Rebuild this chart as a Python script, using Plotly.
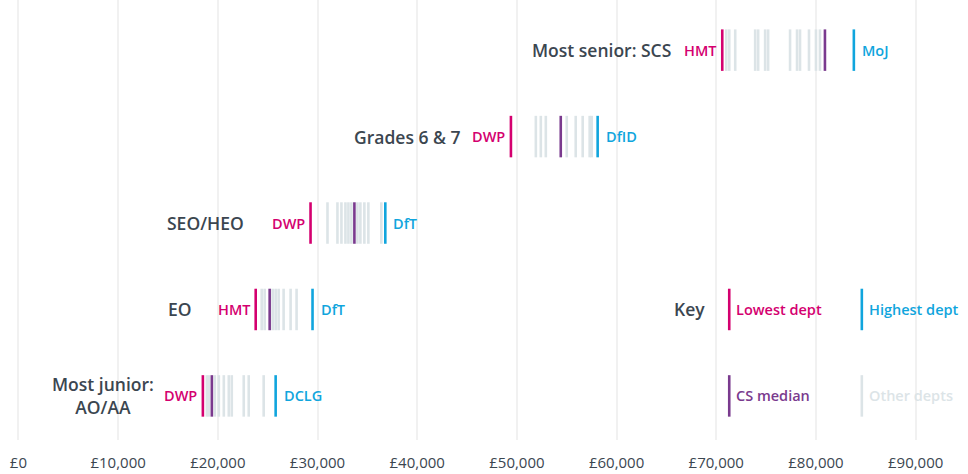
import plotly.graph_objects as go

# ---------------- data ----------------
categories = ["Most junior:<br>AO/AA", "EO", "SEO/HEO", "Grades 6 & 7", "Most senior: SCS"]
lowest_dept = ["DWP", "HMT", "DWP", "DWP", "HMT"]
lowest_val = [18500, 23800, 29300, 49400, 70600]
highest_dept = ["DCLG", "DfT", "DfT", "DfID", "MoJ"]
highest_val = [25800, 29500, 36800, 58100, 83800]
median_val = [19400, 25200, 33700, 54400, 80900]
other_vals = [
    [18900, 19100, 19700, 20100, 20600, 21100, 21400, 22600, 23100, 24600],
    [24400, 24700, 25500, 25800, 26100, 26600, 27300, 27900],
    [31000, 32000, 32400, 32800, 33100, 33400, 34000, 34300, 34700, 35100, 36400],
    [51900, 52400, 52900, 55000, 55900, 56600, 57300, 57500],
    [71000, 71300, 71900, 73900, 74200, 74900, 75200, 77400, 78100, 78400, 79300, 80000, 80400],
]
tick_vals = [0, 10000, 20000, 30000, 40000, 50000, 60000, 70000, 80000, 90000]
tick_text = ["£0", "£10,000", "£20,000", "£30,000", "£40,000", "£50,000",
             "£60,000", "£70,000", "£80,000", "£90,000"]
key_items = ["Lowest dept", "Highest dept", "CS median", "Other depts"]
key_x = [71300, 84600, 71300, 84600]
key_row = [1, 1, 0, 0]

# ---------------- style ----------------
PINK = "#d4006f"
BLUE = "#10a5dd"
PURPLE = "#7a3a8e"
GREY = "#dce4e7"
TEXT = "#3b4650"
FONT = "Open Sans"
HALF = 0.24
LW = 2.6
DEPT_SIZE = 14.5
CAT_SIZE = 17.5
W = 600

def segs(vals_rows):
    xs, ys = [], []
    for i, vals in enumerate(vals_rows):
        for v in vals:
            xs += [v, v, None]
            ys += [i - HALF, i + HALF, None]
    return xs, ys

fig = go.Figure()

def add(vals_rows, color):
    xs, ys = segs(vals_rows)
    fig.add_trace(go.Scatter(x=xs, y=ys, mode="lines",
                             line=dict(color=color, width=LW),
                             hoverinfo="skip", showlegend=False))

add(other_vals, GREY)
add([[v] for v in median_val], PURPLE)
add([[v] for v in lowest_val], PINK)
add([[v] for v in highest_val], BLUE)

# key marks
key_colors = [PINK, BLUE, PURPLE, GREY]
for name, x, r, c in zip(key_items, key_x, key_row, key_colors):
    fig.add_trace(go.Scatter(x=[x, x], y=[r - HALF, r + HALF], mode="lines",
                             line=dict(color=c, width=LW), hoverinfo="skip",
                             showlegend=False))
    fig.add_annotation(x=x, y=r, text=name, xanchor="left", xshift=5,
                       showarrow=False,
                       font=dict(family=FONT, size=DEPT_SIZE, color=c, weight=W))
fig.add_annotation(x=key_x[0], y=key_row[0], text="Key", xanchor="right", xshift=-22,
                   showarrow=False,
                   font=dict(family=FONT, size=CAT_SIZE, color=TEXT, weight=W))

cat_shift = [-47, -62, -65, -48, -49]
for i in range(len(categories)):
    fig.add_annotation(x=lowest_val[i], y=i, text=lowest_dept[i], xanchor="right",
                       xshift=-4, showarrow=False,
                       font=dict(family=FONT, size=DEPT_SIZE, color=PINK, weight=W))
    fig.add_annotation(x=highest_val[i], y=i, text=highest_dept[i], xanchor="left",
                       xshift=6, showarrow=False,
                       font=dict(family=FONT, size=DEPT_SIZE, color=BLUE, weight=W))
    fig.add_annotation(x=lowest_val[i], y=i, text=categories[i], xanchor="right",
                       xshift=cat_shift[i], showarrow=False, align="center",
                       font=dict(family=FONT, size=CAT_SIZE, color=TEXT, weight=W))

fig.update_layout(
    width=968, height=474,
    margin=dict(l=0, r=0, t=0, b=34),
    paper_bgcolor="white", plot_bgcolor="white",
    xaxis=dict(range=[-1850, 95250], tickvals=tick_vals, ticktext=tick_text,
               showgrid=True, gridcolor="#f1f1f1", gridwidth=2,
               zeroline=False, showline=False, ticks="",
               ticklabelstandoff=12,
               tickfont=dict(family=FONT, size=15, color=TEXT), fixedrange=True),
    yaxis=dict(range=[-0.51, 4.58], showgrid=False, zeroline=False,
               showticklabels=False, fixedrange=True),
    showlegend=False,
)

fig.write_html("out.html", config={"displayModeBar": False},
               post_script="document.body.style.margin='0';document.body.style.overflow='hidden';")
